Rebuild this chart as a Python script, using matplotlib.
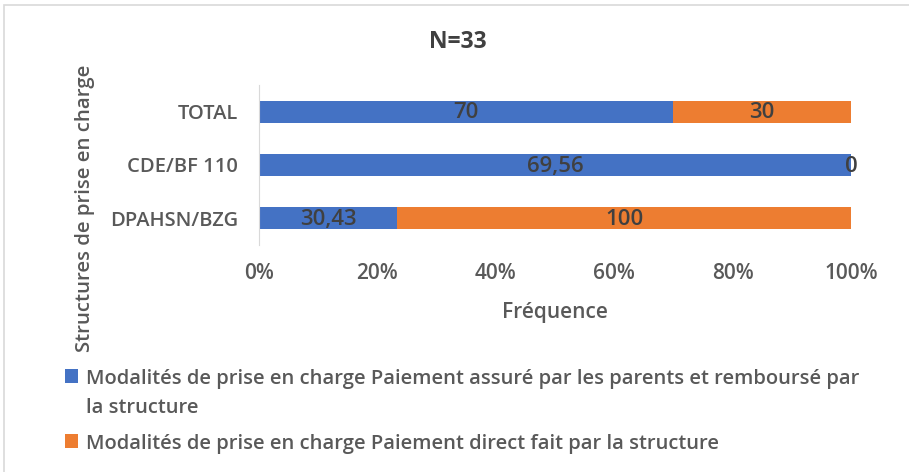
import matplotlib
matplotlib.use("Agg")
import matplotlib.pyplot as plt
from matplotlib.patches import Rectangle
import numpy as np

# Data
categories = ["DPAHSN/BZG", "CDE/BF 110", "TOTAL"]
parents_rembourse = [30.43, 69.56, 70]
paiement_direct = [100, 0, 30]
labels_parents = ["30,43", "69,56", "70"]
labels_direct = ["100", "0", "30"]
series_names = [
    "Modalités de prise en charge Paiement assuré par les parents et remboursé par\nla structure",
    "Modalités de prise en charge Paiement direct fait par la structure",
]
xticks = [0, 0.2, 0.4, 0.6, 0.8, 1.0]
xtick_labels = ["0%", "20%", "40%", "60%", "80%", "100%"]

blue = "#4472C4"
orange = "#ED7D31"
txt_dark = "#404040"
txt_grey = "#595959"

plt.rcParams["font.family"] = ["Open Sans", "DejaVu Sans"]
plt.rcParams["font.weight"] = "semibold"

fig = plt.figure(figsize=(9.09, 4.72), dpi=100)
ax = fig.add_axes([259 / 909, 1 - 245 / 472, 592 / 909, 160 / 472])

# normalise to 100% stacked
a = np.array(parents_rembourse, dtype=float)
b = np.array(paiement_direct, dtype=float)
tot = a + b
pa = a / tot
pb = b / tot
y = np.arange(len(categories))

bars_a = ax.barh(y, pa, height=0.41, color=blue, label=series_names[0])
bars_b = ax.barh(y, pb, left=pa, height=0.41, color=orange, label=series_names[1])

for i in range(len(categories)):
    ax.text(pa[i] / 2, y[i] - 0.02, labels_parents[i], ha="center", va="center",
            fontsize=16, color=txt_dark, fontweight="semibold")
    ax.text(pa[i] + pb[i] / 2, y[i] - 0.02, labels_direct[i], ha="center", va="center",
            fontsize=16, color=txt_dark, fontweight="semibold")

ax.set_xlim(0, 1)
ax.set_ylim(-0.5, 2.5)
ax.set_yticks(y)
ax.set_yticklabels(categories, fontsize=14.5, color=txt_grey, fontweight="semibold")
ax.set_xticks(xticks)
ax.set_xticklabels(xtick_labels, fontsize=15, color=txt_grey, fontweight="semibold")
ax.tick_params(axis="both", length=0)
ax.tick_params(axis="x", pad=13)
ax.tick_params(axis="y", pad=15)
for s in ["top", "right", "bottom"]:
    ax.spines[s].set_visible(False)
ax.spines["left"].set_color("#D9D9D9")

ax.set_xlabel("Fréquence", fontsize=15, color=txt_grey, labelpad=13,
              fontweight="semibold")
fig.text(85 / 909, 1 - 208 / 472, "Structures de prise en charge", rotation=90,
         ha="center", va="center", fontsize=14.7, color=txt_grey,
         fontweight="semibold")
fig.text(458 / 909, 1 - 42 / 472, "N=33", ha="center", va="center",
         fontsize=16.5, color=txt_dark, fontweight="bold")

# chart frame
fig.patches.append(Rectangle((4 / 909, -0.01), 1.0, 1 - 5 / 472 + 0.01,
                             transform=fig.transFigure, fill=False,
                             edgecolor="#D9D9D9", linewidth=1.2))

leg = fig.legend(handles=[bars_a, bars_b], labels=series_names,
                 loc="upper left", bbox_to_anchor=(47 / 909, 1 - 351 / 472),
                 frameon=False, handlelength=0.65, handleheight=0.65,
                 handletextpad=0.4, labelspacing=0.8,
                 prop={"family": ["Open Sans", "DejaVu Sans"], "size": 14.5,
                       "weight": "semibold"})
for t in leg.get_texts():
    t.set_color(txt_grey)
    t.set_linespacing(1.6)
# put the square next to the first line of a wrapped label
for col in leg._legend_handle_box.get_children():
    for row in col.get_children():
        row.align = "top"

fig.savefig("out.png", dpi=100)
